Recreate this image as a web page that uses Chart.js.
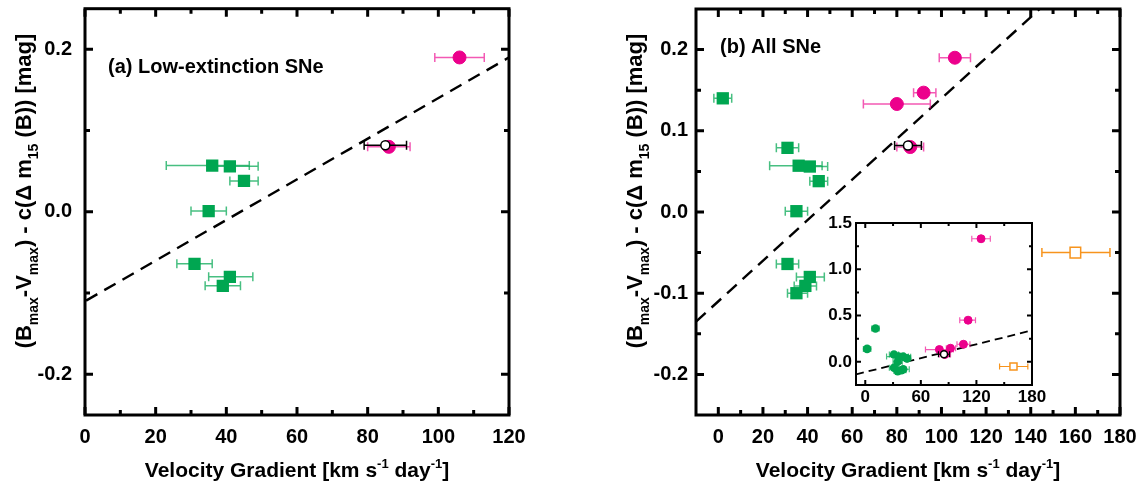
<!DOCTYPE html>
<html>
<head>
<meta charset="utf-8">
<script src="https://cdn.jsdelivr.net/npm/chart.js@4.4.1/dist/chart.umd.min.js"></script>
<style>
  html, body { margin: 0; padding: 0; background: #fff; }
  #wrap { position: relative; width: 1140px; height: 485px; overflow: hidden; }
  canvas { position: absolute; }
</style>
</head>
<body>
<div id="wrap">
  <canvas id="chartA" width="570" height="485" style="left:0;top:0"></canvas>
  <canvas id="chartB" width="570" height="485" style="left:570px;top:0"></canvas>
  <canvas id="chartIn" width="250" height="215" style="left:800px;top:205px"></canvas>
</div>
<script>
// green squares (x = velocity gradient, y = colour residual, lo/hi = x error range)
const greenX   = [2, 11, 31, 36, 41, 45, 35, 31, 41, 39, 35];
const greenY   = [0.140, 0.36, 0.079, 0.057, 0.056, 0.038, 0.001, -0.064, -0.080, -0.091, -0.100];
const greenLo  = [-2, 7, 26, 23, 35, 41, 30, 26, 35, 34, 31];
const greenHi  = [6, 15, 36, 46.5, 49, 49, 40, 36, 47.5, 44, 40];
const greenLowExt = [0, 0, 0, 1, 1, 1, 1, 1, 1, 1, 0];

// magenta circles
const magX  = [106, 92, 80, 86, 125, 111];
const magY  = [0.190, 0.147, 0.133, 0.080, 1.33, 0.45];
const magLo = [99, 87.5, 65, 80, 115, 102];
const magHi = [113, 97.5, 95, 92, 135, 119];
const magLowExt = [1, 0, 0, 1, 0, 0];

// open white circle
const openX = [85], openY = [0.082], openLo = [79], openHi = [91];

// open orange square (high extinction)
const orangeX = [160], orangeY = [-0.05], orangeLo = [145], orangeHi = [175.5];

// dashed fit line
const fitX = [-10, 180];
const fitY = [-0.135, 0.34];

// ticks
const xTicksA = [0, 20, 40, 60, 80, 100, 120];
const yTicksA = [-0.2, 0.0, 0.2];
const xMinorA = [10, 30, 50, 70, 90, 110];
const yMinorA = [-0.1, 0.1];
const xTicksB = [0, 20, 40, 60, 80, 100, 120, 140, 160, 180];
const yTicksB = [-0.2, -0.1, 0.0, 0.1, 0.2];
const xMinorB = [10, 30, 50, 70, 90, 110, 130, 150, 170];
const yMinorB = [-0.15, -0.05, 0.05, 0.15];
const xTicksIn = [0, 60, 120, 180];
const yTicksIn = [0.0, 0.5, 1.0, 1.5];
const xMinorIn = [30, 90, 150];
const yMinorIn = [0.25, 0.75, 1.25];

const GREEN = '#00A651', GREEN_ERR = 'rgba(0,166,81,0.72)';
const MAGENTA = '#EC008C', MAG_ERR = 'rgba(236,0,140,0.65)';
const ORANGE = '#F7941D';
const FONT = '"Liberation Sans", Arial, sans-serif';

function pts(xs, ys, lo, hi, keep) {
  const out = [];
  xs.forEach((x, i) => {
    if (keep && !keep[i]) return;
    out.push({ x: x, y: ys[i], lo: lo[i], hi: hi[i] });
  });
  return out;
}

function drawRich(ctx, parts, size, x, y, rot) {
  const big = 'bold ' + size + 'px ' + FONT;
  const small = 'bold ' + Math.round(size * 0.62) + 'px ' + FONT;
  let w = 0;
  parts.forEach(p => { ctx.font = p.s ? small : big; p.w = ctx.measureText(p.t).width; w += p.w; });
  ctx.save();
  ctx.translate(x, y);
  ctx.rotate(rot);
  ctx.fillStyle = '#000';
  ctx.textBaseline = 'alphabetic';
  let cx = -w / 2;
  parts.forEach(p => {
    ctx.font = p.s ? small : big;
    const dy = p.s === 'sub' ? size * 0.3 : p.s === 'sup' ? -size * 0.42 : 0;
    ctx.fillText(p.t, cx, dy);
    cx += p.w;
  });
  ctx.restore();
}

const yTitle = () => [
  { t: '(B' }, { t: 'max', s: 'sub' }, { t: '-V' }, { t: 'max', s: 'sub' },
  { t: ') - c(\u0394 m' }, { t: '15', s: 'sub' }, { t: ' (B)) [mag]' }
];
const xTitle = () => [
  { t: 'Velocity Gradient [km s' }, { t: '-1', s: 'sup' }, { t: ' day' }, { t: '-1', s: 'sup' }, { t: ']' }
];

// frame, inward ticks on all sides, error bars, titles
function deco(o) {
  return {
    id: 'deco',
    beforeDraw(chart) {
      if (!o.fill) return;
      const a = chart.chartArea, ctx = chart.ctx;
      ctx.save();
      ctx.fillStyle = '#fff';
      ctx.fillRect(a.left, a.top, a.right - a.left, a.bottom - a.top);
      ctx.restore();
    },
    beforeDatasetDraw(chart, args) {
      const ds = chart.data.datasets[args.index];
      if (!ds.errColor) return;
      const a = chart.chartArea, ctx = chart.ctx;
      const xs = chart.scales.x, ys = chart.scales.y;
      ctx.save();
      ctx.beginPath();
      ctx.rect(a.left, a.top, a.right - a.left, a.bottom - a.top);
      ctx.clip();
      ctx.strokeStyle = ds.errColor;
      ctx.lineWidth = ds.errWidth;
      ds.data.forEach(p => {
        const y = ys.getPixelForValue(p.y);
        const x1 = xs.getPixelForValue(p.lo), x2 = xs.getPixelForValue(p.hi);
        const c = ds.errCap;
        ctx.beginPath();
        ctx.moveTo(x1, y); ctx.lineTo(x2, y);
        ctx.moveTo(x1, y - c); ctx.lineTo(x1, y + c);
        ctx.moveTo(x2, y - c); ctx.lineTo(x2, y + c);
        ctx.stroke();
      });
      ctx.restore();
    },
    afterDatasetsDraw(chart) {
      const a = chart.chartArea, ctx = chart.ctx;
      const xs = chart.scales.x, ys = chart.scales.y;
      ctx.save();
      ctx.strokeStyle = '#000';
      ctx.lineWidth = o.tickW;
      const tick = (vals, len, horiz) => {
        vals.forEach(v => {
          ctx.beginPath();
          if (horiz) {
            const px = xs.getPixelForValue(v);
            ctx.moveTo(px, a.bottom); ctx.lineTo(px, a.bottom - len);
            ctx.moveTo(px, a.top); ctx.lineTo(px, a.top + len);
          } else {
            const py = ys.getPixelForValue(v);
            ctx.moveTo(a.left, py); ctx.lineTo(a.left + len, py);
            ctx.moveTo(a.right, py); ctx.lineTo(a.right - len, py);
          }
          ctx.stroke();
        });
      };
      tick(o.xTicks, o.majLen, true);
      tick(o.xMinor, o.minLen, true);
      tick(o.yTicks, o.majLen, false);
      tick(o.yMinor, o.minLen, false);
      ctx.lineWidth = o.frameW;
      ctx.strokeRect(a.left, a.top, a.right - a.left, a.bottom - a.top);
      ctx.restore();
      if (o.label) {
        ctx.save();
        ctx.font = 'bold 20px ' + FONT;
        ctx.fillStyle = '#000';
        ctx.fillText(o.label.t, o.label.x, o.label.y);
        ctx.restore();
      }
      if (o.titles) {
        drawRich(ctx, xTitle(), 21, (a.left + a.right) / 2, 477, 0);
        drawRich(ctx, yTitle(), 22, a.left - 54, 191, -Math.PI / 2);
      }
    }
  };
}

function panel(id, o) {
  const tickFont = { family: FONT, size: o.fontSize, weight: 'bold' };
  return new Chart(document.getElementById(id), {
    type: 'scatter',
    data: { datasets: o.datasets },
    options: {
      responsive: false,
      animation: false,
      layout: { padding: o.pad },
      plugins: { legend: { display: false }, tooltip: { enabled: false } },
      scales: {
        x: {
          type: 'linear', min: o.xMin, max: o.xMax,
          afterBuildTicks: s => { s.ticks = o.xTicks.map(v => ({ value: v })); },
          afterFit: s => { s.height = o.xH; s.paddingLeft = 0; s.paddingRight = 0; },
          grid: { display: false, drawTicks: false },
          border: { display: false },
          ticks: { padding: o.xPad, font: tickFont, color: '#000', autoSkip: false, maxRotation: 0,
                   callback: v => String(v) }
        },
        y: {
          type: 'linear', min: o.yMin, max: o.yMax,
          afterBuildTicks: s => { s.ticks = o.yTicks.map(v => ({ value: v })); },
          afterFit: s => { s.width = o.yW; s.paddingTop = 0; s.paddingBottom = 0; },
          grid: { display: false, drawTicks: false },
          border: { display: false },
          ticks: { padding: o.yPad, font: tickFont, color: '#000', autoSkip: false,
                   callback: v => v.toFixed(1) }
        }
      }
    },
    plugins: [deco(o)]
  });
}

function sets(big, keepG, keepM) {
  return [
    { data: pts(openX, openY, openLo, openHi), pointStyle: 'circle', pointRadius: big ? 4.5 : 3.5,
      backgroundColor: '#fff', borderColor: '#000', borderWidth: 1.5,
      errColor: '#000', errWidth: big ? 1.5 : 1.2, errCap: big ? 4.5 : 3 },
    { data: pts(magX, magY, magLo, magHi, keepM), pointStyle: 'circle', pointRadius: big ? 6.5 : 4,
      backgroundColor: MAGENTA, borderColor: MAGENTA, borderWidth: 1,
      errColor: MAG_ERR, errWidth: big ? 1.5 : 1.2, errCap: big ? 4.5 : 3 },
    { data: pts(orangeX, orangeY, orangeLo, orangeHi), pointStyle: 'rect', pointRadius: big ? 7.5 : 5,
      backgroundColor: '#fff', borderColor: ORANGE, borderWidth: 1.5,
      errColor: ORANGE, errWidth: big ? 1.5 : 1.2, errCap: big ? 4.5 : 3 },
    { data: pts(greenX, greenY, greenLo, greenHi, keepG), pointStyle: big ? 'rect' : 'circle',
      pointRadius: big ? 8.7 : 4.3, backgroundColor: GREEN, borderColor: GREEN, borderWidth: 0,
      errColor: GREEN_ERR, errWidth: big ? 1.5 : 1.2, errCap: big ? 4.5 : 3 },
    { type: 'line', data: fitX.map((x, i) => ({ x: x, y: fitY[i] })), showLine: true,
      borderColor: '#000', borderWidth: big ? 2.4 : 1.8, borderDash: big ? [13, 8] : [8, 5],
      pointRadius: 0, fill: false }
  ];
}

const dsA = sets(true, greenLowExt, magLowExt);
dsA.splice(2, 1); // no orange square in panel (a)

panel('chartA', {
  datasets: dsA,
  xMin: 0, xMax: 120, yMin: -0.25, yMax: 0.25,
  xTicks: xTicksA, yTicks: yTicksA, xMinor: xMinorA, yMinor: yMinorA,
  pad: { top: 5, right: 61, left: 0, bottom: 0 }, xH: 70, yW: 85, xPad: 10, yPad: 13,
  fontSize: 20, tickW: 3, frameW: 3, majLen: 8, minLen: 5,
  label: { t: '(a) Low-extinction SNe', x: 108, y: 73 }, titles: true
});

panel('chartB', {
  datasets: sets(true),
  xMin: -10, xMax: 180, yMin: -0.25, yMax: 0.25,
  xTicks: xTicksB, yTicks: yTicksB, xMinor: xMinorB, yMinor: yMinorB,
  pad: { top: 5, right: 20, left: 0, bottom: 0 }, xH: 70, yW: 126, xPad: 10, yPad: 8,
  fontSize: 20, tickW: 3, frameW: 3, majLen: 8, minLen: 5,
  label: { t: '(b) All SNe', x: 150, y: 53 }, titles: true
});

panel('chartIn', {
  datasets: sets(false),
  xMin: -10, xMax: 180, yMin: -0.25, yMax: 1.5,
  xTicks: xTicksIn, yTicks: yTicksIn, xMinor: xMinorIn, yMinor: yMinorIn,
  pad: { top: 18, right: 18, left: 0, bottom: 0 }, xH: 35, yW: 56, xPad: 2, yPad: 4,
  fontSize: 17, tickW: 2, frameW: 2, majLen: 5, minLen: 3, fill: true
});
</script>
</body>
</html>
